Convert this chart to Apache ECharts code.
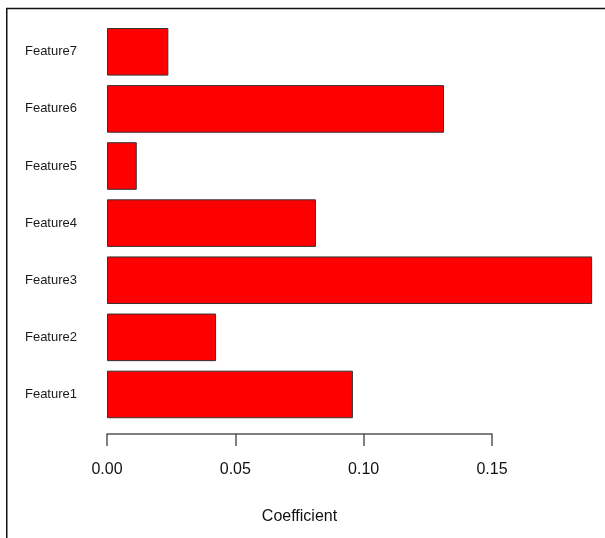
<!DOCTYPE html>
<html>
<head>
<meta charset="utf-8">
<script src="https://cdn.jsdelivr.net/npm/echarts@6/dist/echarts.min.js"></script>
<style>
html,body{margin:0;padding:0;background:#fff;}
#c{width:605px;height:538px;}
</style>
</head>
<body>
<div id="c"></div>
<script>
var categories = ['Feature1','Feature2','Feature3','Feature4','Feature5','Feature6','Feature7'];
var coefficients = [0.0958, 0.0425, 0.189, 0.0814, 0.0116, 0.1313, 0.0239];
var tickValues = [0.00, 0.05, 0.10, 0.15];

var chart = echarts.init(document.getElementById('c'));
chart.setOption({
  animation: false,
  backgroundColor: '#ffffff',
  graphic: [{
    type: 'polyline',
    shape: { points: [[6.75, 540], [6.75, 8.5], [610, 8.5]] },
    style: { stroke: '#111', lineWidth: 1.5, fill: null },
    z: 100
  }],
  grid: [
    { left: 107, right: 10.3, top: 23.25, bottom: 115 },
    { left: 107, width: 385, top: 420, bottom: 104 }
  ],
  xAxis: [
    { gridIndex: 0, type: 'value', min: 0, max: 0.19, show: false, splitLine: { show: false } },
    {
      gridIndex: 1, type: 'value', min: tickValues[0], max: tickValues[tickValues.length - 1], interval: 0.05,
      axisLine: { show: true, lineStyle: { color: '#555', width: 1.5 } },
      axisTick: { show: true, length: 12, lineStyle: { color: '#555', width: 1.5 } },
      splitLine: { show: false },
      axisLabel: { fontSize: 16, color: '#111', fontFamily: 'Liberation Sans, Arial, sans-serif', margin: 28,
        formatter: function (v) { return v.toFixed(2); } },
      name: 'Coefficient', nameLocation: 'middle', nameGap: 75,
      nameTextStyle: { fontSize: 16, color: '#111', fontFamily: 'Liberation Sans, Arial, sans-serif' }
    }
  ],
  yAxis: [
    {
      gridIndex: 0, type: 'category', data: categories,
      axisLine: { show: false }, axisTick: { show: false }, splitLine: { show: false },
      axisLabel: { fontSize: 13, color: '#1a1a1a', margin: 30, padding: [4, 0, 0, 0],
        fontFamily: 'Liberation Sans, Arial, sans-serif' }
    },
    { gridIndex: 1, type: 'value', show: false }
  ],
  series: [
    {
      type: 'bar', xAxisIndex: 0, yAxisIndex: 0, data: coefficients,
      barCategoryGap: '16.67%',
      itemStyle: { color: '#ff0000', borderColor: '#333', borderWidth: 1 }
    },
    { type: 'scatter', xAxisIndex: 1, yAxisIndex: 1, data: [], silent: true }
  ]
});
</script>
</body>
</html>
